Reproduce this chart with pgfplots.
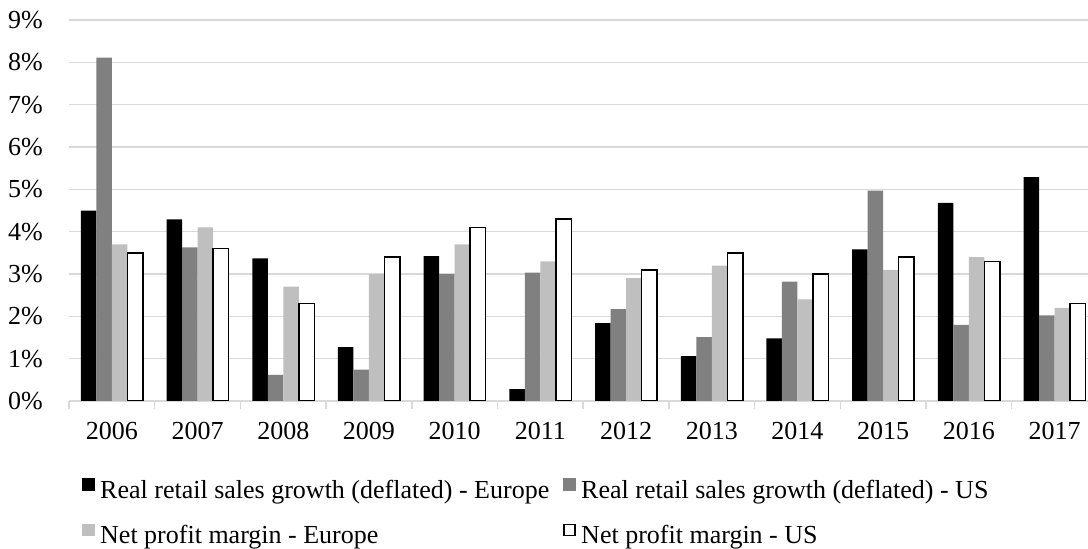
\documentclass[border=0pt]{standalone}
\usepackage{fontspec}
\setmainfont{Liberation Serif}
\usepackage{pgfplots}
\usepackage{pgfplotstable}
\pgfplotsset{compat=1.18}
\definecolor{gridc}{HTML}{D9D9D9}
\definecolor{midgray}{HTML}{808080}
\definecolor{ltgray}{HTML}{BFBFBF}
\pgfplotstableread{
x  rsEU rsUS npEU npUS
0  4.50 8.11 3.70 3.50
1  4.29 3.63 4.10 3.60
2  3.37 0.62 2.70 2.30
3  1.27 0.74 3.00 3.40
4  3.42 3.00 3.70 4.10
5  0.28 3.03 3.30 4.30
6  1.84 2.17 2.90 3.10
7  1.06 1.51 3.20 3.50
8  1.48 2.82 2.40 3.00
9  3.58 4.97 3.10 3.40
10 4.68 1.80 3.40 3.30
11 5.29 2.02 2.20 2.30
}\datatable
\begin{document}
\fontsize{26pt}{31pt}\selectfont
\begin{tikzpicture}
\useasboundingbox (0,0) rectangle (1088pt,549pt);
\begin{axis}[
  at={(69pt,148pt)}, anchor=south west,
  scale only axis, width=1019pt, height=381pt,
  xmin=-0.5, xmax=11.39, ymin=0, ymax=9,
  ybar=0pt, bar width=15.5pt,
  axis line style={draw=none},
  ytick={0,...,9},
  yticklabels={0\%,1\%,2\%,3\%,4\%,5\%,6\%,7\%,8\%,9\%},
  xtick={0,...,11},
  xticklabels={2006,2007,2008,2009,2010,2011,2012,2013,2014,2015,2016,2017},
  minor xtick={-0.5,0.5,...,10.5},
  major tick length=0pt,
  minor tick length=8pt,
  tick align=outside,
  xtick pos=bottom, ytick pos=left,
  minor tick style={draw=gridc, line width=1.5pt},
  ymajorgrids, major grid style={draw=gridc, line width=1.5pt},
  /pgf/number format/assume math mode=true,
  every tick label/.append style={font=\fontsize{26pt}{31pt}\selectfont, inner sep=0pt},
  yticklabel style={anchor=east, xshift=-26pt},
  xticklabel style={anchor=north, yshift=-20.7pt},
  legend columns=2,
  legend cell align=left,
  legend style={draw=none, fill=none, inner sep=0pt,
    at={(0,0)}, anchor=north west, xshift=13pt, yshift=-77pt,
    font=\fontsize{26pt}{31pt}\selectfont,
    nodes={inner sep=0pt, text height=18pt, text depth=6pt},
    row sep=19pt,
    /tikz/every odd column/.append style={column sep=5.5pt},
    /tikz/every even column/.append style={column sep=14pt}},
]
\addplot[fill=black, draw=none,
  legend image code/.code={\fill[black] (0pt,1.8pt) rectangle (12.5pt,14.3pt);}]
  table[x=x, y=rsEU] {\datatable};
\addplot[fill=midgray, draw=none,
  legend image code/.code={\fill[midgray] (0pt,1.8pt) rectangle (12.5pt,14.3pt);}]
  table[x=x, y=rsUS] {\datatable};
\addplot[fill=ltgray, draw=none,
  legend image code/.code={\fill[ltgray] (0pt,1.8pt) rectangle (12.5pt,14.3pt);}]
  table[x=x, y=npEU] {\datatable};
\addplot[fill=white, draw=black, line width=1.5pt,
  legend image code/.code={\draw[black, line width=1.4pt, fill=white] (0.7pt,2.5pt) rectangle (11.8pt,13.6pt);}]
  table[x=x, y=npUS] {\datatable};
\legend{Real retail sales growth (deflated) - Europe, Real retail sales growth (deflated) - US, Net profit margin - Europe, Net profit margin - US}
\end{axis}
\end{tikzpicture}
\end{document}
